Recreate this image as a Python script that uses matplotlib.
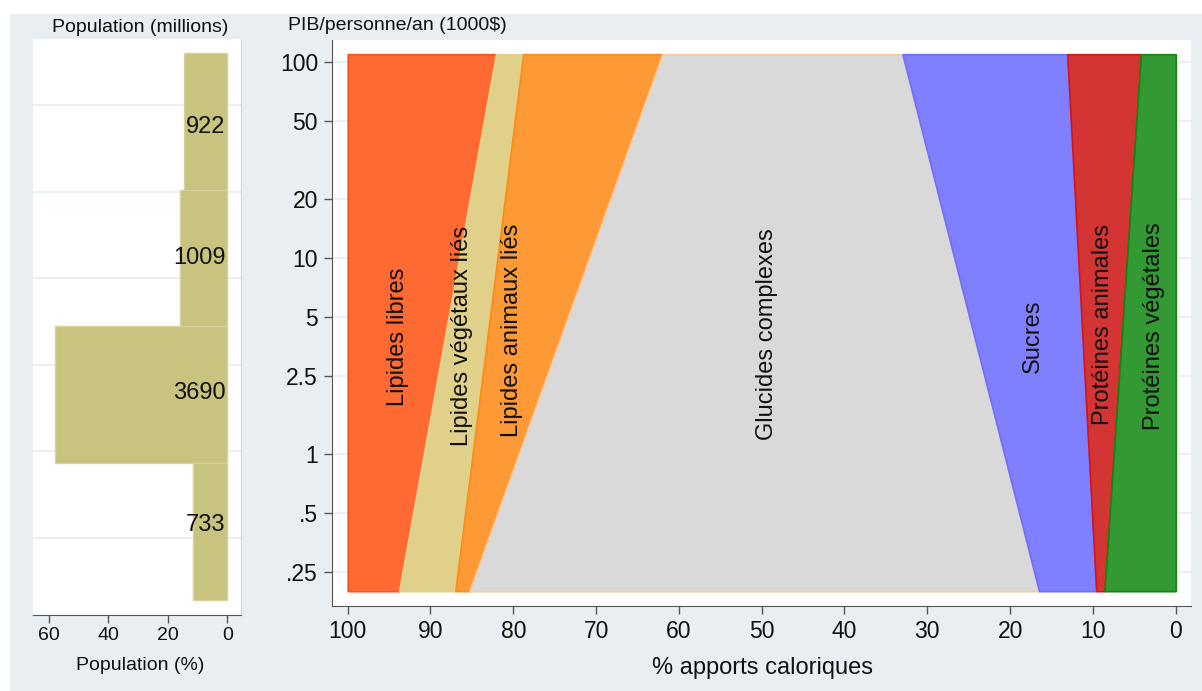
import numpy as np
import matplotlib.pyplot as plt
from matplotlib.patches import Rectangle

plt.rcParams['font.family'] = ['Liberation Sans', 'DejaVu Sans']

# population par tranche de PIB (du plus riche au plus pauvre)
pop_millions = [922, 1009, 3690, 733]
pop_label_y = [3.457, 2.501, 1.515, 0.545]

# parts des apports caloriques (%) aux deux extremites du PIB
gdp = [0.2, 110]
categories = ["Protéines végétales", "Protéines animales", "Sucres", "Glucides complexes",
              "Lipides animaux liés", "Lipides végétaux liés", "Lipides libres"]
share_low = [8.6, 1.0, 6.9, 68.8, 1.7, 6.8, 6.2]
share_high = [4.2, 8.9, 19.9, 29.0, 16.8, 3.3, 17.9]
fill_colors = ['#339933', '#d33535', '#8080ff', '#d9d9d9', '#fd9a35', '#e0d08a', '#ff6a33']
edge_colors = ['#0b8a0b', '#dd1111', '#6d6dff', '#f7caa0', '#ff8a10', '#e0d08a', '#ff5219']

label_x = [2.6, 8.8, 17.2, 49.3, 80.1, 86.2, 93.9]
label_y = [4.5, 4.6, 4.0, 4.1, 4.3, 4.0, 3.95]

y_ticks = [0.25, 0.5, 1, 2.5, 5, 10, 20, 50, 100]
y_ticklabels = ['.25', '.5', '1', '2.5', '5', '10', '20', '50', '100']
x_ticks = list(range(0, 101, 10))
pop_ticks = [60, 40, 20, 0]

W, H = 1202, 691
bg = '#e8eef1'
axcol = '#555555'
gridcol = '#e4edf0'

fig = plt.figure(figsize=(W / 100, H / 100), dpi=100)
fig.patch.set_facecolor('white')
fig.patches.append(Rectangle((10 / W, 0), 1 - 10 / W, (H - 14) / H,
                             transform=fig.transFigure, facecolor=bg,
                             edgecolor='none', zorder=-10))

def box(l, t, r, b):
    return [l / W, (H - b) / H, (r - l) / W, (b - t) / H]

# ---- panneau gauche : population ----
ax1 = fig.add_axes(box(33, 38.7, 241, 615))
pct = np.array(pop_millions) / sum(pop_millions) * 100
bar_pos = np.arange(len(pop_millions))[::-1] + 0.5
ax1.barh(bar_pos, pct, height=1, color='#c8c37e', edgecolor='#d6d29c',
         linewidth=1, zorder=2)
for ly, n in zip(pop_label_y, pop_millions):
    ax1.text(0.5, ly, str(n), ha='right', va='center', fontsize=17,
             color='#111111', zorder=3)
ax1.set_xlim(65.4, -4.65)
ax1.set_ylim(-0.11, 4.104)
ax1.set_yticks(np.arange(6) * 0.632 + 0.456)
ax1.set_yticklabels([])
ax1.tick_params(axis='y', length=0)
ax1.grid(axis='y', color=gridcol, linewidth=1.2, zorder=0)
ax1.set_xticks(pop_ticks)
ax1.tick_params(axis='x', direction='out', length=5.8, width=1, color=axcol,
                labelsize=14, pad=3, labelcolor='#111111')
for s in ['top', 'left']:
    ax1.spines[s].set_visible(False)
ax1.spines['right'].set_color('#d0d6d8')
ax1.spines['bottom'].set_color(axcol)
ax1.set_axisbelow(True)

# ---- panneau droit : apports caloriques ----
ax2 = fig.add_axes(box(331.7, 40, 1190.7, 606))
ax2.set_yscale('log')
low_cum = np.cumsum(share_low)
high_cum = np.cumsum(share_high)
for i in range(len(categories) - 1, -1, -1):
    prev = [low_cum[i - 1], high_cum[i - 1]] if i > 0 else [0, 0]
    ax2.fill_betweenx(gdp, prev, [low_cum[i], high_cum[i]],
                      facecolor=fill_colors[i], edgecolor=edge_colors[i],
                      linewidth=1.2, zorder=2)
for name, lx, ly in zip(categories, label_x, label_y):
    ax2.text(lx, ly, name, rotation=90, ha='center', va='center',
             fontsize=17, color='#111111', zorder=3)

ax2.set_xlim(101.93, -1.81)
ax2.set_ylim(0.168, 130)
ax2.set_yticks(y_ticks)
ax2.set_yticklabels(y_ticklabels)
ax2.yaxis.set_minor_locator(plt.NullLocator())
ax2.set_xticks(x_ticks)
ax2.tick_params(direction='out', length=5.8, width=1, color=axcol,
                labelsize=16.5, labelcolor='#111111')
ax2.tick_params(axis='x', pad=4)
ax2.tick_params(axis='y', pad=4)
ax2.grid(axis='y', color=gridcol, linewidth=1.2, zorder=0)
ax2.set_axisbelow(True)
for s in ['top', 'right']:
    ax2.spines[s].set_visible(False)
for s in ['left', 'bottom']:
    ax2.spines[s].set_color(axcol)

fig.text(140.5 / W, 1 - 28 / H, "Population (millions)", ha='center', va='center',
         fontsize=14, color='#111111')
fig.text(140 / W, 1 - 665 / H, "Population (%)", ha='center', va='center',
         fontsize=14, color='#111111')
fig.text(287.7 / W, 1 - 25 / H, "PIB/personne/an (1000$)", ha='left', va='center',
         fontsize=14, color='#111111')
fig.text(763 / W, 1 - 668 / H, "% apports caloriques", ha='center', va='center',
         fontsize=17, color='#111111')

fig.savefig('out.png', dpi=100, facecolor=fig.get_facecolor())
